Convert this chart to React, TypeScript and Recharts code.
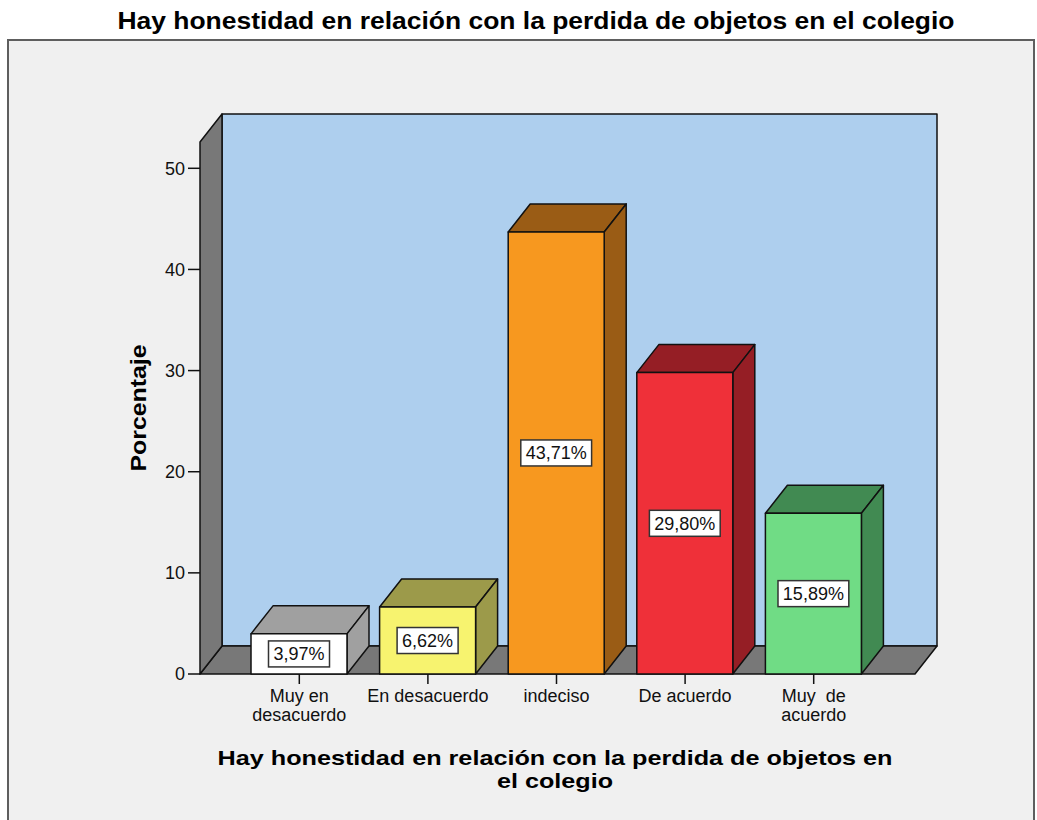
import { BarChart, Bar, XAxis, YAxis, ReferenceArea, LabelList } from 'recharts';

const categories = ['Muy en\ndesacuerdo', 'En desacuerdo', 'indeciso', 'De acuerdo', 'Muy  de\nacuerdo'];
const percentages = [3.97, 6.62, 43.71, 29.8, 15.89];
const yTicks = [0, 10, 20, 30, 40, 50];

const frontColors = ['#ffffff', '#f7f36f', '#f7981f', '#ef3039', '#70dc85'];
const shadeColors = ['#a0a0a0', '#9c9a4a', '#9a5c15', '#951e25', '#418a52'];

const data = categories.map((c, i) => ({ category: c, value: percentages[i] }));

const FONT = '"Liberation Sans", Arial, sans-serif';
const DX = 22;
const DY = 28;
const PAD_L = 35;
const PAD_R = 37;
const Y_TOP = 52.6;

// back wall, floor and left wall, placed from the plot area of the chart
function Walls(props: any) {
    const { x, y, width, height } = props;
    const left = x - PAD_L;
    const right = x + width + PAD_R;
    const bottom = y + height;
    return (
        <g stroke="#111" strokeWidth={1.5} strokeLinejoin="round">
            <rect x={left + DX} y={y - DY} width={right - left} height={height} fill="#aecfee" />
            <polygon
                points={`${left},${bottom} ${left + DX},${bottom - DY} ${right + DX},${bottom - DY} ${right},${bottom}`}
                fill="#787878"
            />
            <polygon
                points={`${left},${bottom} ${left},${y} ${left + DX},${y - DY} ${left + DX},${bottom - DY}`}
                fill="#787878"
            />
        </g>
    );
}

function Box3D(props: any) {
    const { x, y, width, height, index } = props;
    const front = frontColors[index];
    const shade = shadeColors[index];
    return (
        <g stroke="#111" strokeWidth={1.5} strokeLinejoin="round">
            <polygon
                points={`${x},${y} ${x + DX},${y - DY} ${x + width + DX},${y - DY} ${x + width},${y}`}
                fill={shade}
            />
            <polygon
                points={`${x + width},${y} ${x + width + DX},${y - DY} ${x + width + DX},${y + height - DY} ${x + width},${y + height}`}
                fill={shade}
            />
            <rect x={x} y={y} width={width} height={height} fill={front} />
        </g>
    );
}

function ValueLabel(props: any) {
    const { x, y, width, height, value } = props;
    const text = Number(value).toFixed(2).replace('.', ',') + '%';
    const cx = x + width / 2;
    const cy = y + height / 2;
    const w = text.length * 9.8 + 12;
    const h = 26;
    return (
        <g>
            <rect x={cx - w / 2} y={cy - h / 2} width={w} height={h} fill="#fff" stroke="#333" strokeWidth={1.5} />
            <text x={cx} y={cy + 6.5} textAnchor="middle" fontSize={18} fontFamily={FONT} fill="#111">
                {text}
            </text>
        </g>
    );
}

function CategoryTick(props: any) {
    const { x, y, payload } = props;
    const lines = String(payload.value).split('\n');
    return (
        <text x={x} y={y} textAnchor="middle" fontSize={18} fontFamily={FONT} fill="#111">
            {lines.map((line, i) => (
                <tspan key={i} x={x} dy={i === 0 ? 16 : 19} style={{ whiteSpace: 'pre' }}>
                    {line}
                </tspan>
            ))}
        </text>
    );
}

export default function App() {
    return (
        <div style={{ position: 'absolute', left: 0, top: 0, width: 1037, height: 820, background: '#fff', overflow: 'hidden' }}>
            <svg width={1037} height={820} style={{ position: 'absolute', left: 0, top: 0 }}>
                <rect x={8} y={40} width={1026} height={820} fill="#f0f0f0" stroke="#5e5e5e" strokeWidth={2} />
                <text x={536} y={29} textAnchor="middle" fontSize={23} fontWeight="bold" fontFamily={FONT} fill="#000"
                    textLength={837} lengthAdjust="spacingAndGlyphs">
                    Hay honestidad en relación con la perdida de objetos en el colegio
                </text>
                <text x={146} y={408} textAnchor="middle" fontSize={22} fontWeight="bold" fontFamily={FONT} fill="#000"
                    transform="rotate(-90 146 408)" textLength={127} lengthAdjust="spacingAndGlyphs">
                    Porcentaje
                </text>
                <text x={555} y={765} textAnchor="middle" fontSize={21} fontWeight="bold" fontFamily={FONT} fill="#000"
                    textLength={675} lengthAdjust="spacingAndGlyphs">
                    Hay honestidad en relación con la perdida de objetos en
                </text>
                <text x={555} y={788} textAnchor="middle" fontSize={21} fontWeight="bold" fontFamily={FONT} fill="#000"
                    textLength={116} lengthAdjust="spacingAndGlyphs">
                    el colegio
                </text>
            </svg>
            <div style={{ position: 'absolute', left: 0, top: 0 }}>
                <BarChart width={1037} height={820} data={data} margin={{ top: 142, right: 122, bottom: 96, left: 140 }}>
                    <XAxis
                        dataKey="category"
                        height={50}
                        interval={0}
                        padding={{ left: PAD_L, right: PAD_R }}
                        axisLine={false}
                        tickSize={10}
                        tickMargin={2}
                        tickLine={{ stroke: '#111', strokeWidth: 1.5 }}
                        tick={<CategoryTick />}
                    />
                    <YAxis
                        width={60}
                        domain={[0, Y_TOP]}
                        ticks={yTicks}
                        axisLine={false}
                        tickSize={12}
                        tickMargin={3}
                        tickLine={{ stroke: '#111', strokeWidth: 1.5 }}
                        tick={{ fontSize: 18, fontFamily: FONT, fill: '#111' }}
                    />
                    <ReferenceArea y1={0} y2={Y_TOP} shape={<Walls />} ifOverflow="visible" zIndex={-10} />
                    <Bar dataKey="value" barSize={96} shape={<Box3D />} isAnimationActive={false}>
                        <LabelList dataKey="value" content={<ValueLabel />} />
                    </Bar>
                </BarChart>
            </div>
        </div>
    );
}
